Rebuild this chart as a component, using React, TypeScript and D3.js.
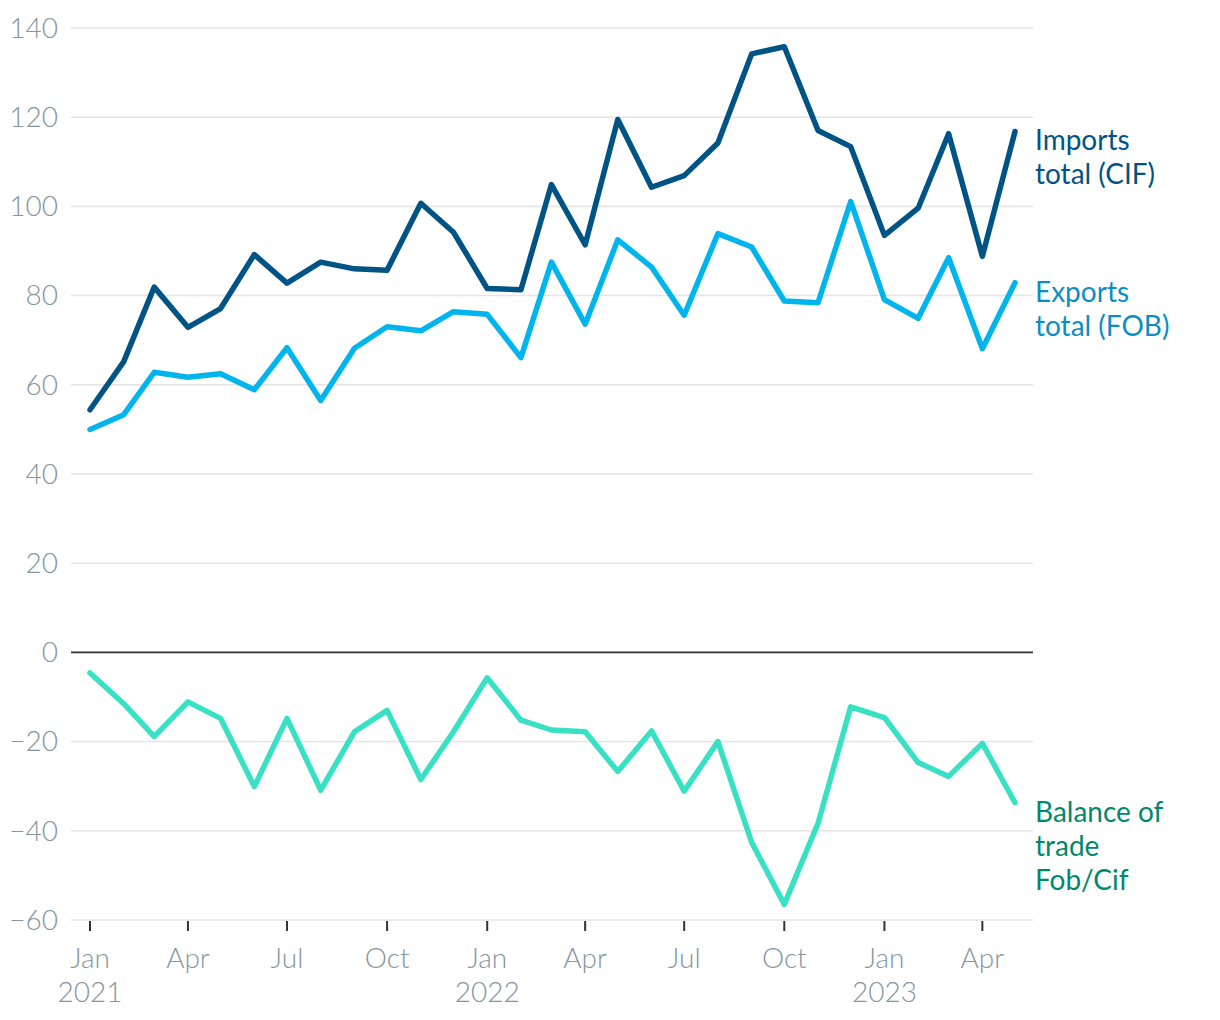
import React from "react";
import * as d3 from "d3";

// monthly values, Jan 2021 - May 2023
const months = [
  "2021-01", "2021-02", "2021-03", "2021-04", "2021-05", "2021-06",
  "2021-07", "2021-08", "2021-09", "2021-10", "2021-11", "2021-12",
  "2022-01", "2022-02", "2022-03", "2022-04", "2022-05", "2022-06",
  "2022-07", "2022-08", "2022-09", "2022-10", "2022-11", "2022-12",
  "2023-01", "2023-02", "2023-03", "2023-04", "2023-05",
];

const imports = [
  54.4, 65.2, 81.9, 72.9, 77.1, 89.2, 82.8, 87.5, 86.0, 85.7, 100.7, 94.2,
  81.6, 81.3, 104.9, 91.4, 119.5, 104.3, 106.9, 114.2, 134.2, 135.8, 117.0, 113.4,
  93.5, 99.6, 116.3, 88.8, 116.8,
];

const exportsFob = [
  50.0, 53.3, 62.8, 61.7, 62.5, 58.9, 68.3, 56.5, 68.2, 73.0, 72.1, 76.4,
  75.8, 66.1, 87.5, 73.6, 92.5, 86.4, 75.6, 93.9, 90.9, 78.8, 78.4, 101.1,
  79.1, 74.9, 88.5, 68.1, 82.9,
];

const balance = [
  -4.6, -11.5, -18.9, -11.1, -14.8, -30.1, -14.8, -30.9, -17.8, -13.0, -28.5, -17.8,
  -5.7, -15.2, -17.4, -17.8, -26.7, -17.6, -31.1, -20.0, -42.6, -56.5, -38.3, -12.2,
  -14.6, -24.7, -27.8, -20.4, -33.7,
];

const yTicks = [-60, -40, -20, 0, 20, 40, 60, 80, 100, 120, 140];

const series = [
  { name: ["Imports", "total (CIF)"], values: imports, line: "#005485", label: "#005485" },
  { name: ["Exports", "total (FOB)"], values: exportsFob, line: "#00b5ee", label: "#0a8ec5" },
  { name: ["Balance of", "trade", "Fob/Cif"], values: balance, line: "#38e0c4", label: "#00886d" },
];

const W = 1220;
const H = 1020;
const parse = d3.timeParse("%Y-%m");
const FONT = "Lato, 'Noto Sans', sans-serif";

export default function App() {
  const dates = months.map(m => parse(m) as Date);

  const x = d3
    .scaleTime()
    .domain([dates[0], dates[dates.length - 1]])
    .range([90, 1015]);

  const y = d3.scaleLinear().domain([-60, 140]).range([920, 28]);

  const xTicks = d3.timeMonth.every(3)!.range(dates[0], dates[dates.length - 1]);
  const fmtMonth = d3.timeFormat("%b");
  const fmtYear = d3.timeFormat("%Y");

  const line = d3
    .line<number>()
    .x((d, i) => x(dates[i]))
    .y(d => y(d));

  return (
    <svg
      width={W}
      height={H}
      style={{ position: "absolute", left: 0, top: 0, display: "block", background: "#fff" }}
      fontFamily={FONT}
    >
      {yTicks.map(t => (
        <g key={t}>
          {t !== 0 && (
            <line x1={71} x2={1033} y1={y(t)} y2={y(t)} stroke="#e4e4e4" strokeWidth={1.5} />
          )}
          <text
            x={58}
            y={y(t)}
            dy="0.35em"
            textAnchor="end"
            fontSize={28}
            fontWeight={300}
            fill="#84969f"
          >
            {t < 0 ? "\u2212" + Math.abs(t) : t}
          </text>
        </g>
      ))}

      {xTicks.map(d => (
        <g key={+d} transform={`translate(${x(d)},0)`}>
          <line y1={921} y2={931} stroke="#333" strokeWidth={2} />
          <text y={968} textAnchor="middle" fontSize={28} fontWeight={300} fill="#84969f">
            {fmtMonth(d)}
          </text>
          {d.getMonth() === 0 && (
            <text y={1002} textAnchor="middle" fontSize={28} fontWeight={300} fill="#84969f">
              {fmtYear(d)}
            </text>
          )}
        </g>
      ))}

      <line x1={71} x2={1033} y1={y(0)} y2={y(0)} stroke="#333" strokeWidth={1.8} />

      {series.map(s => (
        <path
          key={s.name[0]}
          d={line(s.values) || ""}
          fill="none"
          stroke={s.line}
          strokeWidth={5.5}
          strokeLinejoin="round"
          strokeLinecap="round"
        />
      ))}

      {series.map(s => {
        const last = s.values[s.values.length - 1];
        return (
          <text key={s.name[0]} x={1035} y={y(last) + 19} fontSize={28} fill={s.label}>
            {s.name.map((n, i) => (
              <tspan key={n} x={1035} dy={i === 0 ? 0 : 34}>
                {n}
              </tspan>
            ))}
          </text>
        );
      })}
    </svg>
  );
}
